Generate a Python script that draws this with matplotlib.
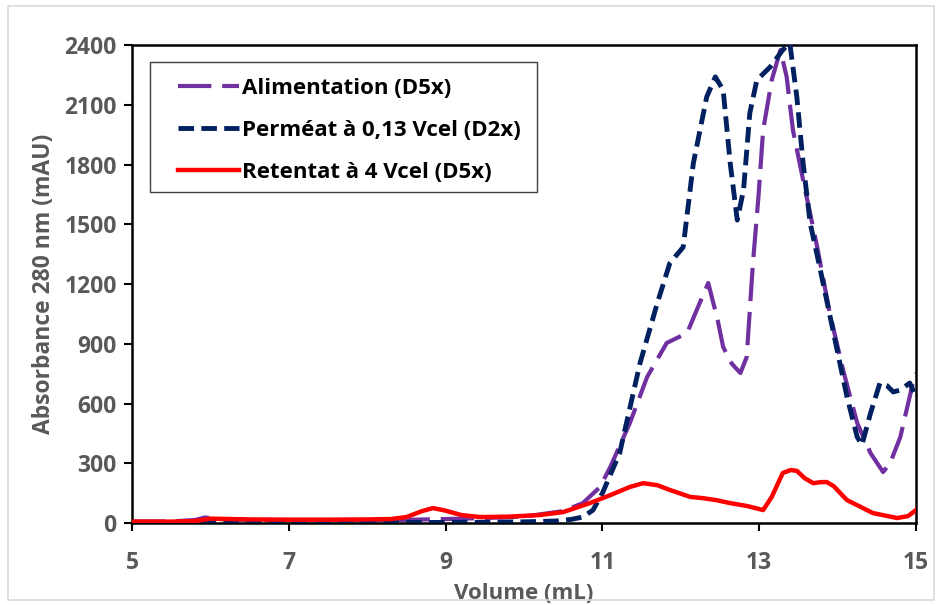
import matplotlib
matplotlib.use('Agg')
import matplotlib.pyplot as plt
from matplotlib.patches import Rectangle

plt.rcParams['font.family'] = ['Open Sans', 'DejaVu Sans']

# Alimentation (D5x)
alim_x = [5.0, 5.5, 5.8, 5.93, 6.1, 6.5, 7.0, 8.0, 8.5, 9.0, 9.5, 10.0, 10.5, 10.75, 10.97,
          11.1, 11.35, 11.57, 11.82, 12.08, 12.24, 12.35, 12.47, 12.54, 12.65, 12.76,
          12.84, 12.92, 12.99, 13.05, 13.16, 13.27, 13.35, 13.43, 13.56, 13.74, 13.90,
          14.07, 14.25, 14.42, 14.58, 14.67, 14.80, 14.96, 15.0]
alim_y = [8, 8, 15, 28, 20, 15, 14, 14, 16, 20, 25, 32, 60, 100, 181,
          281, 502, 733, 904, 954, 1104, 1205, 1019, 884, 800, 753,
          833, 1305, 1637, 1973, 2224, 2375, 2240, 1973, 1722, 1385, 1054,
          768, 502, 351, 256, 301, 432, 703, 753]

# Perméat à 0,13 Vcel (D2x)
perm_x = [5.0, 6.0, 7.0, 8.0, 9.0, 9.5, 10.0, 10.4, 10.6, 10.75, 10.88,
          11.0, 11.22, 11.48, 11.70, 11.86, 12.03, 12.16, 12.33, 12.44, 12.54,
          12.63, 12.72, 12.80, 12.88, 12.97, 13.14, 13.30, 13.39, 13.48, 13.56,
          13.65, 13.78, 13.94, 14.12, 14.25, 14.31, 14.42, 14.54, 14.63, 14.71,
          14.80, 14.92, 15.0]
perm_y = [2, 2, 2, 2, 3, 4, 6, 10, 18, 30, 65,
          150, 351, 803, 1104, 1305, 1385, 1807, 2139, 2240, 2174,
          1807, 1521, 1672, 2058, 2224, 2290, 2375, 2410, 2139, 1807,
          1506, 1270, 969, 633, 432, 392, 552, 703, 690, 658,
          668, 703, 633]

# Retentat à 4 Vcel (D5x)
ret_x = [5.0, 5.5, 5.8, 6.0, 6.5, 7.0, 7.5, 8.0, 8.3, 8.5, 8.7, 8.84, 9.0, 9.2,
         9.44, 9.8, 10.2, 10.5, 10.84, 11.1, 11.35, 11.52, 11.70, 11.86, 12.12,
         12.28, 12.45, 12.63, 12.85, 13.05, 13.16, 13.30, 13.40, 13.48, 13.58,
         13.69, 13.78, 13.86, 13.95, 14.12, 14.45, 14.76, 14.9, 15.0]
ret_y = [7, 7, 10, 22, 18, 17, 17, 18, 20, 30, 60, 75, 62, 40,
         30, 32, 40, 55, 100, 140, 181, 200, 190, 166, 131,
         125, 115, 100, 85, 65, 131, 251, 266, 262, 225,
         200, 205, 206, 185, 115, 50, 25, 35, 65]

x_ticks = [5, 7, 9, 11, 13, 15]
y_ticks = [0, 300, 600, 900, 1200, 1500, 1800, 2100, 2400]

fig = plt.figure(figsize=(9.37, 6.05), dpi=100)
fig.patches.append(Rectangle((0.009, 0.008), 0.988, 0.982, transform=fig.transFigure,
                             fill=False, edgecolor='#d9d9d9', linewidth=1.2))
ax = fig.add_axes([0.1409, 0.1355, 0.8367, 0.7901])

ax.plot(alim_x, alim_y, color='#7030a0', linewidth=3, dashes=(8, 2.6),
        label='Alimentation (D5x)', zorder=2)
ax.plot(perm_x, perm_y, color='#002060', linewidth=3.5, dashes=(3.2, 1.5),
        label='Perméat à 0,13 Vcel (D2x)', zorder=3)
ax.plot(ret_x, ret_y, color='#ff0000', linewidth=3.2,
        label='Retentat à 4 Vcel (D5x)', zorder=4)

ax.set_xlim(5, 15)
ax.set_ylim(0, 2400)
ax.set_xticks(x_ticks)
ax.set_yticks(y_ticks)
ax.tick_params(direction='out', length=6, width=1.5, colors='black',
               labelcolor='#595959', labelsize=16.5, pad=5)
ax.tick_params(axis='x', pad=14)
for lbl in ax.get_xticklabels() + ax.get_yticklabels():
    lbl.set_fontweight('bold')
for s in ax.spines.values():
    s.set_linewidth(1.8)
    s.set_color('black')

ax.set_xlabel('Volume (mL)', fontsize=16, fontweight='bold', color='#595959', labelpad=6)
ax.set_ylabel('Absorbance 280 nm (mAU)', fontsize=16.5, fontweight='bold', color='#595959', labelpad=6)

# legend frame drawn separately, entries placed inside it
ax.add_patch(Rectangle((0.023, 0.6925), 0.4936, 0.2719, transform=ax.transAxes,
                       fill=False, edgecolor='#404040', linewidth=1.0, zorder=5))
leg = ax.legend(loc='upper left', bbox_to_anchor=(0.0587, 0.932),
                prop={'weight': 'bold', 'size': 16}, frameon=False,
                handlelength=2.75, handletextpad=0.15,
                borderpad=0, labelspacing=0.95, borderaxespad=0)
leg.set_zorder(6)
for t in leg.get_texts():
    t.set_color('black')

fig.savefig('out.png', dpi=100)
